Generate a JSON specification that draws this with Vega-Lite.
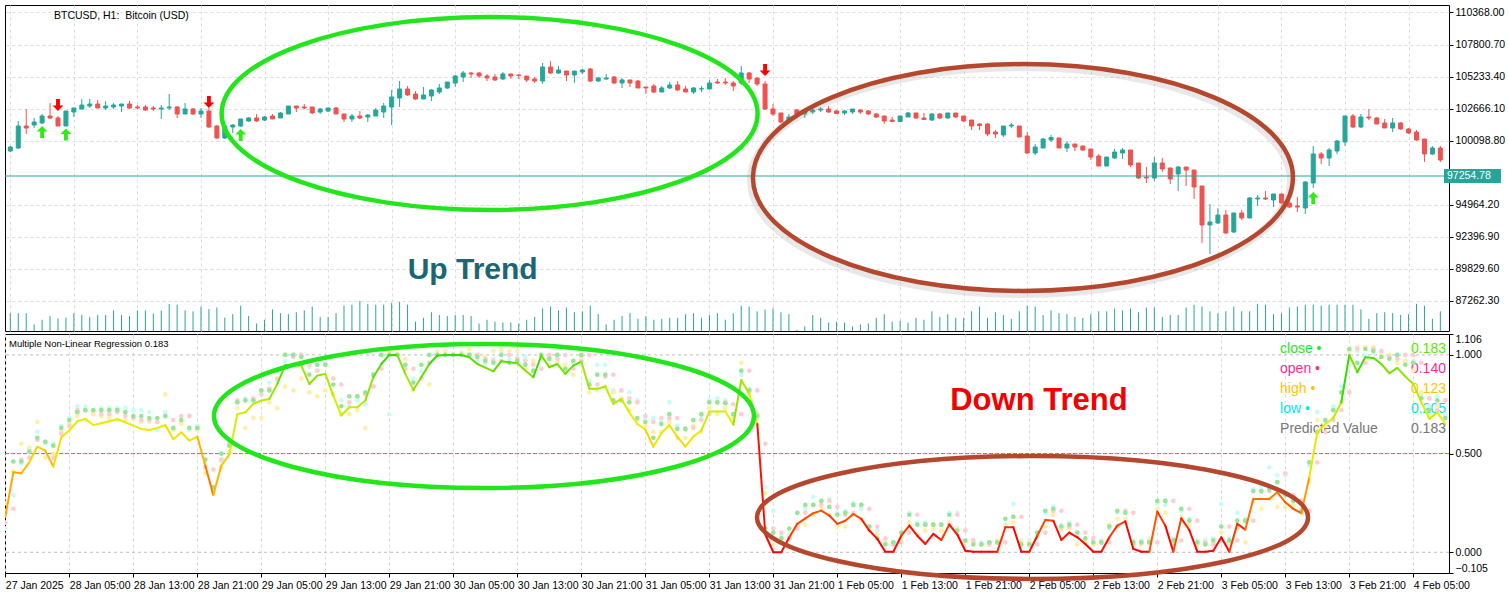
{
"$schema": "https://vega.github.io/schema/vega-lite/v6.json",
"background": "#ffffff",
"padding": {"left": 4, "top": 4, "right": 0, "bottom": 0},
"spacing": 1,
"config": {
  "font": "Liberation Sans",
  "view": {"stroke": "#000000", "strokeWidth": 1},
  "axis": {"labelFont": "Liberation Sans", "labelFontSize": 10.5, "labelColor": "#000000", "tickColor": "#000000", "tickSize": 4, "gridColor": "#dcdcdc", "gridDash": [3, 3], "gridWidth": 1, "domain": false, "labelOverlap": false},
  "text": {"font": "Liberation Sans"}
},
"datasets": {
"level": [{"price": 97254.78}],
"signals": [
{"i":4,"price":100784,"d":"up"},{"i":7,"price":100584,"d":"up"},{"i":29,"price":100543,"d":"up"},{"i":164,"price":95491,"d":"up"},
{"i":6,"price":102949,"d":"down"},{"i":25,"price":103190,"d":"down"},{"i":95,"price":105756,"d":"down"}],
"bars": [
{"i":0,"o":99260,"h":99661,"l":99180,"c":99581,"v":2280,"p":0.18,"zc":0.2,"zo":0.15,"zh":0.25,"zl":0.12},
{"i":1,"o":99501,"h":101666,"l":99421,"c":101265,"v":2280,"p":0.405,"zc":0.46,"zo":0.22,"zh":0.41,"zl":0.29},
{"i":2,"o":101265,"h":102629,"l":100624,"c":101105,"v":2280,"p":0.4,"zc":0.46,"zo":0.47,"zh":0.55,"zl":0.45},
{"i":3,"o":101345,"h":101907,"l":101105,"c":101586,"v":840,"p":0.456,"zc":0.51,"zo":0.48,"zh":0.53,"zl":0.52},
{"i":4,"o":101506,"h":102228,"l":101426,"c":102067,"v":1440,"p":0.535,"zc":0.58,"zo":0.57,"zh":0.66,"zl":0.61},
{"i":5,"o":102067,"h":103110,"l":101827,"c":101907,"v":1920,"p":0.515,"zc":0.56,"zo":0.56,"zh":0.48,"zl":0.55},
{"i":6,"o":101907,"h":102067,"l":101265,"c":101265,"v":1600,"p":0.434,"zc":0.54,"zo":0.48,"zh":0.5,"zl":0.55},
{"i":7,"o":101265,"h":102468,"l":101265,"c":102468,"v":1720,"p":0.583,"zc":0.63,"zo":0.6,"zh":0.61,"zl":0.64},
{"i":8,"o":102388,"h":102709,"l":101987,"c":102709,"v":2280,"p":0.617,"zc":0.67,"zo":0.64,"zh":0.65,"zl":0.68},
{"i":9,"o":102629,"h":103431,"l":102629,"c":102949,"v":2040,"p":0.664,"zc":0.71,"zo":0.72,"zh":0.69,"zl":0.74},
{"i":10,"o":102869,"h":103431,"l":102709,"c":103030,"v":1800,"p":0.676,"zc":0.72,"zo":0.72,"zh":0.67,"zl":0.74},
{"i":11,"o":103030,"h":103351,"l":102709,"c":102709,"v":2040,"p":0.645,"zc":0.72,"zo":0.72,"zh":0.7,"zl":0.7},
{"i":12,"o":102709,"h":103270,"l":102548,"c":102869,"v":2040,"p":0.654,"zc":0.72,"zo":0.7,"zh":0.69,"zl":0.73},
{"i":13,"o":102789,"h":103110,"l":102629,"c":102949,"v":2640,"p":0.664,"zc":0.72,"zo":0.7,"zh":0.68,"zl":0.73},
{"i":14,"o":102869,"h":103030,"l":102388,"c":103030,"v":2040,"p":0.674,"zc":0.72,"zo":0.71,"zh":0.67,"zl":0.73},
{"i":15,"o":103030,"h":103270,"l":102629,"c":102709,"v":1920,"p":0.659,"zc":0.71,"zo":0.69,"zh":0.67,"zl":0.73},
{"i":16,"o":102789,"h":102949,"l":102629,"c":102709,"v":2640,"p":0.642,"zc":0.69,"zo":0.68,"zh":0.68,"zl":0.72},
{"i":17,"o":102789,"h":102949,"l":102468,"c":102548,"v":2640,"p":0.625,"zc":0.69,"zo":0.67,"zh":0.66,"zl":0.72},
{"i":18,"o":102709,"h":102869,"l":102468,"c":102629,"v":2240,"p":0.62,"zc":0.68,"zo":0.67,"zh":0.66,"zl":0.71},
{"i":19,"o":102629,"h":102949,"l":101827,"c":102709,"v":2640,"p":0.63,"zc":0.68,"zo":0.66,"zh":0.66,"zl":0.62},
{"i":20,"o":102709,"h":103832,"l":102548,"c":102789,"v":3440,"p":0.645,"zc":0.69,"zo":0.69,"zh":0.8,"zl":0.71},
{"i":21,"o":102789,"h":102869,"l":101907,"c":102228,"v":3360,"p":0.573,"zc":0.63,"zo":0.67,"zh":0.62,"zl":0.62},
{"i":22,"o":102228,"h":103110,"l":102228,"c":102629,"v":2640,"p":0.608,"zc":0.67,"zo":0.69,"zh":0.65,"zl":0.66},
{"i":23,"o":102629,"h":102709,"l":102147,"c":102228,"v":2520,"p":0.566,"zc":0.63,"zo":0.69,"zh":0.69,"zl":0.62},
{"i":24,"o":102228,"h":102709,"l":101907,"c":102468,"v":3120,"p":0.586,"zc":0.63,"zo":0.63,"zh":0.62,"zl":0.64},
{"i":25,"o":102468,"h":102709,"l":101105,"c":101185,"v":2800,"p":0.439,"zc":0.47,"zo":0.43,"zh":0.4,"zl":0.45},
{"i":26,"o":101265,"h":101345,"l":100223,"c":100303,"v":3000,"p":0.29,"zc":0.33,"zo":0.42,"zh":0.3,"zl":0.31},
{"i":27,"o":100303,"h":101345,"l":100223,"c":101265,"v":1720,"p":0.439,"zc":0.5,"zo":0.47,"zh":0.43,"zl":0.46},
{"i":28,"o":101185,"h":101426,"l":100704,"c":101345,"v":2160,"p":0.495,"zc":0.54,"zo":0.55,"zh":0.51,"zl":0.55},
{"i":29,"o":101265,"h":101827,"l":101185,"c":101827,"v":3240,"p":0.7,"zc":0.76,"zo":0.77,"zh":0.73,"zl":0.76},
{"i":30,"o":101666,"h":101987,"l":101586,"c":101907,"v":1920,"p":0.709,"zc":0.77,"zo":0.77,"zh":0.63,"zl":0.78},
{"i":31,"o":101907,"h":102228,"l":101586,"c":101666,"v":960,"p":0.752,"zc":0.77,"zo":0.78,"zh":0.68,"zl":0.77},
{"i":32,"o":101746,"h":102067,"l":101666,"c":101987,"v":1440,"p":0.769,"zc":0.82,"zo":0.8,"zh":0.68,"zl":0.82},
{"i":33,"o":102067,"h":102228,"l":101827,"c":101827,"v":2760,"p":0.777,"zc":0.82,"zo":0.83,"zh":0.76,"zl":0.86},
{"i":34,"o":101907,"h":102388,"l":101907,"c":102308,"v":2280,"p":0.853,"zc":0.92,"zo":0.88,"zh":0.73,"zl":0.87},
{"i":35,"o":102228,"h":102869,"l":102228,"c":102869,"v":2160,"p":0.949,"zc":1.0,"zo":1.0,"zh":0.84,"zl":0.97},
{"i":36,"o":102869,"h":102869,"l":102388,"c":102709,"v":2400,"p":0.949,"zc":1.0,"zo":0.99,"zh":0.82,"zl":1.0},
{"i":37,"o":102789,"h":103030,"l":102629,"c":102709,"v":2640,"p":0.946,"zc":0.99,"zo":1.0,"zh":0.88,"zl":1.0},
{"i":38,"o":102789,"h":102789,"l":102228,"c":102308,"v":3120,"p":0.853,"zc":0.9,"zo":0.95,"zh":0.81,"zl":0.94},
{"i":39,"o":102388,"h":102709,"l":102228,"c":102629,"v":1800,"p":0.895,"zc":0.95,"zo":0.92,"zh":0.79,"zl":0.95},
{"i":40,"o":102468,"h":102709,"l":102388,"c":102709,"v":1800,"p":0.904,"zc":0.95,"zo":0.95,"zh":0.82,"zl":0.96},
{"i":41,"o":102709,"h":102789,"l":102228,"c":102228,"v":2280,"p":0.794,"zc":0.85,"zo":0.88,"zh":0.8,"zl":0.88},
{"i":42,"o":102228,"h":102228,"l":101586,"c":101827,"v":3240,"p":0.693,"zc":0.74,"zo":0.85,"zh":0.7,"zl":0.77},
{"i":43,"o":101827,"h":102228,"l":101586,"c":102067,"v":3360,"p":0.735,"zc":0.79,"zo":0.76,"zh":0.7,"zl":0.74},
{"i":44,"o":102067,"h":102468,"l":101827,"c":101907,"v":3840,"p":0.735,"zc":0.79,"zo":0.79,"zh":0.72,"zl":0.77},
{"i":45,"o":101987,"h":102228,"l":101586,"c":102147,"v":3480,"p":0.769,"zc":0.81,"zo":0.8,"zh":0.63,"zl":0.75},
{"i":46,"o":102067,"h":102709,"l":102067,"c":102548,"v":3360,"p":0.887,"zc":0.9,"zo":0.84,"zh":0.84,"zl":0.9},
{"i":47,"o":102388,"h":103110,"l":101907,"c":102869,"v":3360,"p":0.954,"zc":1.0,"zo":0.93,"zh":1.03,"zl":1.0},
{"i":48,"o":102789,"h":104153,"l":101345,"c":103591,"v":3600,"p":1.0,"zc":1.0,"zo":1.0,"zh":1.02,"zl":0.7},
{"i":49,"o":103511,"h":104874,"l":102789,"c":104233,"v":3720,"p":1.0,"zc":1.0,"zo":1.0,"zh":1.03,"zl":1.0},
{"i":50,"o":104233,"h":104473,"l":103671,"c":103752,"v":3360,"p":0.904,"zc":0.95,"zo":0.93,"zh":0.98,"zl":0.95},
{"i":51,"o":103832,"h":104072,"l":103351,"c":103431,"v":1200,"p":0.823,"zc":0.86,"zo":0.93,"zh":0.82,"zl":0.88},
{"i":52,"o":103431,"h":104393,"l":103431,"c":103752,"v":1680,"p":0.887,"zc":0.95,"zo":0.88,"zh":0.88,"zl":0.92},
{"i":53,"o":103671,"h":104233,"l":103270,"c":104153,"v":2400,"p":0.954,"zc":1.0,"zo":0.96,"zh":0.85,"zl":1.0},
{"i":54,"o":103992,"h":104634,"l":103832,"c":104313,"v":2040,"p":0.997,"zc":1.0,"zo":1.0,"zh":1.02,"zl":1.0},
{"i":55,"o":104313,"h":104794,"l":104233,"c":104794,"v":1920,"p":1.0,"zc":1.0,"zo":1.0,"zh":1.02,"zl":1.0},
{"i":56,"o":104714,"h":105356,"l":104393,"c":105275,"v":2040,"p":1.0,"zc":1.0,"zo":1.0,"zh":1.0,"zl":1.0},
{"i":57,"o":105195,"h":105676,"l":104794,"c":105516,"v":2040,"p":1.0,"zc":1.0,"zo":1.0,"zh":1.01,"zl":1.0},
{"i":58,"o":105516,"h":105596,"l":105115,"c":105436,"v":1920,"p":0.988,"zc":1.0,"zo":1.0,"zh":1.03,"zl":1.0},
{"i":59,"o":105516,"h":105596,"l":105115,"c":105275,"v":960,"p":0.954,"zc":0.99,"zo":1.0,"zh":1.0,"zl":0.97},
{"i":60,"o":105275,"h":105436,"l":104874,"c":105115,"v":1440,"p":0.936,"zc":0.97,"zo":0.98,"zh":0.99,"zl":0.96},
{"i":61,"o":105195,"h":105436,"l":104874,"c":104955,"v":1200,"p":0.917,"zc":0.96,"zo":0.97,"zh":1.02,"zl":0.98},
{"i":62,"o":105035,"h":105596,"l":104955,"c":105436,"v":1080,"p":0.968,"zc":1.0,"zo":0.97,"zh":1.03,"zl":1.02},
{"i":63,"o":105436,"h":105436,"l":105035,"c":105275,"v":1080,"p":0.963,"zc":0.96,"zo":1.0,"zh":1.02,"zl":0.98},
{"i":64,"o":105356,"h":105436,"l":105035,"c":105316,"v":960,"p":0.958,"zc":0.97,"zo":0.98,"zh":1.02,"zl":0.99},
{"i":65,"o":105275,"h":105275,"l":104794,"c":104955,"v":1440,"p":0.921,"zc":0.95,"zo":0.97,"zh":0.93,"zl":0.99},
{"i":66,"o":105035,"h":105195,"l":104714,"c":104874,"v":1800,"p":0.887,"zc":0.92,"zo":0.95,"zh":0.97,"zl":0.96},
{"i":67,"o":104874,"h":106318,"l":104634,"c":105997,"v":2880,"p":0.997,"zc":1.0,"zo":0.93,"zh":0.98,"zl":1.0},
{"i":68,"o":105997,"h":106478,"l":105436,"c":105516,"v":3120,"p":0.9375,"zc":0.98,"zo":1.0,"zh":0.95,"zl":0.99},
{"i":69,"o":105516,"h":106077,"l":105436,"c":105756,"v":2640,"p":0.954,"zc":1.0,"zo":0.98,"zh":0.96,"zl":1.0},
{"i":70,"o":105676,"h":105676,"l":104874,"c":105356,"v":3000,"p":0.904,"zc":0.93,"zo":1.0,"zh":0.95,"zl":0.92},
{"i":71,"o":105356,"h":105676,"l":104714,"c":105676,"v":2400,"p":0.946,"zc":0.97,"zo":0.93,"zh":0.9,"zl":0.96},
{"i":72,"o":105596,"h":105837,"l":105436,"c":105756,"v":2520,"p":0.966,"zc":1.0,"zo":0.97,"zh":0.99,"zl":0.95},
{"i":73,"o":105837,"h":105917,"l":104794,"c":104874,"v":3240,"p":0.828,"zc":0.85,"zo":1.0,"zh":0.81,"zl":0.87},
{"i":74,"o":104874,"h":105195,"l":104794,"c":105115,"v":2160,"p":0.828,"zc":0.9,"zo":0.85,"zh":0.82,"zl":0.95},
{"i":75,"o":105035,"h":105436,"l":104955,"c":105115,"v":840,"p":0.84,"zc":0.9,"zo":0.89,"zh":0.84,"zl":0.95},
{"i":76,"o":105195,"h":105275,"l":104634,"c":104714,"v":1440,"p":0.752,"zc":0.77,"zo":0.9,"zh":0.81,"zl":0.82},
{"i":77,"o":104714,"h":105115,"l":104313,"c":104955,"v":1920,"p":0.777,"zc":0.77,"zo":0.82,"zh":0.78,"zl":0.82},
{"i":78,"o":104955,"h":104955,"l":104393,"c":104714,"v":2280,"p":0.709,"zc":0.76,"zo":0.78,"zh":0.72,"zl":0.81},
{"i":79,"o":104874,"h":104955,"l":104313,"c":104313,"v":1560,"p":0.65,"zc":0.68,"zo":0.76,"zh":0.67,"zl":0.77},
{"i":80,"o":104393,"h":104393,"l":103832,"c":104313,"v":1920,"p":0.622,"zc":0.66,"zo":0.69,"zh":0.64,"zl":0.68},
{"i":81,"o":104473,"h":104634,"l":103912,"c":103992,"v":1440,"p":0.535,"zc":0.58,"zo":0.66,"zh":0.61,"zl":0.68},
{"i":82,"o":103992,"h":104473,"l":103992,"c":104313,"v":1560,"p":0.603,"zc":0.65,"zo":0.68,"zh":0.61,"zl":0.66},
{"i":83,"o":104313,"h":104794,"l":104233,"c":104554,"v":1680,"p":0.645,"zc":0.7,"zo":0.68,"zh":0.66,"zl":0.76},
{"i":84,"o":104554,"h":104874,"l":104072,"c":104153,"v":1680,"p":0.586,"zc":0.625,"zo":0.68,"zh":0.58,"zl":0.64},
{"i":85,"o":104233,"h":104473,"l":103992,"c":103992,"v":2160,"p":0.535,"zc":0.625,"zo":0.625,"zh":0.58,"zl":0.62},
{"i":86,"o":103992,"h":104393,"l":103832,"c":104313,"v":2280,"p":0.586,"zc":0.67,"zo":0.63,"zh":0.64,"zl":0.67},
{"i":87,"o":104233,"h":104473,"l":103992,"c":104253,"v":1680,"p":0.617,"zc":0.7,"zo":0.67,"zh":0.61,"zl":0.68},
{"i":88,"o":104233,"h":104955,"l":104233,"c":104714,"v":2040,"p":0.713,"zc":0.76,"zo":0.7,"zh":0.73,"zl":0.77},
{"i":89,"o":104794,"h":105035,"l":104634,"c":104714,"v":2280,"p":0.713,"zc":0.76,"zo":0.76,"zh":0.7,"zl":0.78},
{"i":90,"o":104794,"h":105115,"l":104554,"c":104714,"v":1440,"p":0.713,"zc":0.755,"zo":0.76,"zh":0.73,"zl":0.77},
{"i":91,"o":104714,"h":104874,"l":104072,"c":104473,"v":2280,"p":0.647,"zc":0.7,"zo":0.75,"zh":0.68,"zl":0.7},
{"i":92,"o":104714,"h":106077,"l":104554,"c":105516,"v":3240,"p":0.873,"zc":0.92,"zo":0.7,"zh":0.96,"zl":0.9},
{"i":93,"o":105516,"h":105596,"l":104714,"c":105035,"v":3120,"p":0.802,"zc":0.82,"zo":0.92,"zh":0.8,"zl":0.83},
{"i":94,"o":105115,"h":105115,"l":104473,"c":104634,"v":2520,"p":0.65,"zc":0.69,"zo":0.82,"zh":0.7,"zl":0.7},
{"i":95,"o":104634,"h":104874,"l":102548,"c":102629,"v":2760,"p":0.09,"zc":0.12,"zo":0.55,"zh":0.3,"zl":0.33},
{"i":96,"o":102629,"h":103030,"l":102067,"c":102228,"v":2880,"p":0.0,"zc":0.1,"zo":0.12,"zh":0.04,"zl":0.21},
{"i":97,"o":102308,"h":102308,"l":101506,"c":101586,"v":2400,"p":0.0,"zc":0.07,"zo":0.1,"zh":0.07,"zl":0.09},
{"i":98,"o":101666,"h":102228,"l":101506,"c":101987,"v":2160,"p":0.076,"zc":0.12,"zo":0.07,"zh":0.07,"zl":0.09},
{"i":99,"o":102548,"h":102629,"l":102147,"c":102228,"v":120,"p":0.144,"zc":0.2,"zo":0.12,"zh":0.14,"zl":0.2},
{"i":100,"o":102228,"h":102468,"l":101907,"c":102388,"v":600,"p":0.172,"zc":0.24,"zo":0.2,"zh":0.14,"zl":0.22},
{"i":101,"o":102388,"h":102709,"l":102228,"c":102548,"v":2040,"p":0.198,"zc":0.24,"zo":0.24,"zh":0.19,"zl":0.28},
{"i":102,"o":102548,"h":102789,"l":102388,"c":102629,"v":1680,"p":0.211,"zc":0.26,"zo":0.24,"zh":0.22,"zl":0.26},
{"i":103,"o":102629,"h":102869,"l":102308,"c":102388,"v":1080,"p":0.186,"zc":0.23,"zo":0.26,"zh":0.19,"zl":0.27},
{"i":104,"o":102468,"h":102548,"l":102228,"c":102268,"v":1200,"p":0.144,"zc":0.19,"zo":0.23,"zh":0.13,"zl":0.2},
{"i":105,"o":102308,"h":102548,"l":102147,"c":102468,"v":1080,"p":0.16,"zc":0.2,"zo":0.19,"zh":0.13,"zl":0.21},
{"i":106,"o":102388,"h":102629,"l":102228,"c":102629,"v":600,"p":0.194,"zc":0.24,"zo":0.2,"zh":0.19,"zl":0.25},
{"i":107,"o":102548,"h":102629,"l":102228,"c":102388,"v":840,"p":0.169,"zc":0.24,"zo":0.24,"zh":0.16,"zl":0.22},
{"i":108,"o":102468,"h":102548,"l":102147,"c":102228,"v":960,"p":0.11,"zc":0.13,"zo":0.22,"zh":0.11,"zl":0.13},
{"i":109,"o":102228,"h":102308,"l":101907,"c":101987,"v":1680,"p":0.068,"zc":0.07,"zo":0.13,"zh":0.09,"zl":0.11},
{"i":110,"o":102067,"h":102067,"l":101426,"c":101666,"v":2160,"p":0.003,"zc":0.04,"zo":0.07,"zh":0.05,"zl":0.05},
{"i":111,"o":101746,"h":101987,"l":101626,"c":101626,"v":1200,"p":0.003,"zc":0.05,"zo":0.04,"zh":0.04,"zl":0.05},
{"i":112,"o":101626,"h":102067,"l":101586,"c":102067,"v":1320,"p":0.084,"zc":0.1,"zo":0.05,"zh":0.07,"zl":0.09},
{"i":113,"o":101987,"h":102388,"l":101987,"c":102308,"v":1080,"p":0.135,"zc":0.19,"zo":0.1,"zh":0.15,"zl":0.2},
{"i":114,"o":102308,"h":102308,"l":101827,"c":101907,"v":1680,"p":0.084,"zc":0.14,"zo":0.19,"zh":0.09,"zl":0.15},
{"i":115,"o":101907,"h":102308,"l":101786,"c":101786,"v":1440,"p":0.042,"zc":0.14,"zo":0.14,"zh":0.11,"zl":0.15},
{"i":116,"o":101746,"h":102308,"l":101666,"c":102228,"v":2520,"p":0.093,"zc":0.14,"zo":0.14,"zh":0.12,"zl":0.14},
{"i":117,"o":102228,"h":102308,"l":101827,"c":101907,"v":1800,"p":0.0625,"zc":0.14,"zo":0.14,"zh":0.11,"zl":0.14},
{"i":118,"o":101907,"h":102308,"l":101827,"c":102308,"v":2160,"p":0.14,"zc":0.19,"zo":0.14,"zh":0.15,"zl":0.2},
{"i":119,"o":102308,"h":102308,"l":101907,"c":101987,"v":1680,"p":0.09,"zc":0.11,"zo":0.19,"zh":0.12,"zl":0.2},
{"i":120,"o":102067,"h":102067,"l":101586,"c":101666,"v":1680,"p":0.008,"zc":0.06,"zo":0.11,"zh":0.05,"zl":0.05},
{"i":121,"o":101746,"h":101746,"l":100944,"c":101265,"v":2520,"p":0.003,"zc":0.04,"zo":0.06,"zh":0.05,"zl":0.05},
{"i":122,"o":101426,"h":101506,"l":100944,"c":101306,"v":3120,"p":0.003,"zc":0.04,"zo":0.04,"zh":0.04,"zl":0.05},
{"i":123,"o":101426,"h":101506,"l":100463,"c":100624,"v":1680,"p":0.003,"zc":0.05,"zo":0.04,"zh":0.04,"zl":0.05},
{"i":124,"o":100784,"h":100944,"l":100303,"c":100624,"v":2400,"p":0.003,"zc":0.05,"zo":0.05,"zh":0.06,"zl":0.05},
{"i":125,"o":100543,"h":101265,"l":100383,"c":101265,"v":2040,"p":0.127,"zc":0.17,"zo":0.05,"zh":0.13,"zl":0.14},
{"i":126,"o":101265,"h":101506,"l":101105,"c":101345,"v":1560,"p":0.127,"zc":0.18,"zo":0.18,"zh":0.15,"zl":0.245},
{"i":127,"o":101265,"h":101265,"l":100383,"c":100383,"v":2520,"p":0.003,"zc":0.04,"zo":0.18,"zh":0.05,"zl":0.06},
{"i":128,"o":100463,"h":100784,"l":99020,"c":99100,"v":3240,"p":0.003,"zc":0.04,"zo":0.04,"zh":0.05,"zl":0.06},
{"i":129,"o":99100,"h":99822,"l":98939,"c":99581,"v":3120,"p":0.084,"zc":0.1,"zo":0.04,"zh":0.08,"zl":0.1},
{"i":130,"o":99501,"h":100303,"l":99501,"c":100223,"v":2040,"p":0.164,"zc":0.21,"zo":0.1,"zh":0.13,"zl":0.2},
{"i":131,"o":100142,"h":100543,"l":99982,"c":100343,"v":2640,"p":0.16,"zc":0.22,"zo":0.21,"zh":0.19,"zl":0.23},
{"i":132,"o":100303,"h":100303,"l":99501,"c":99501,"v":2280,"p":0.0625,"zc":0.13,"zo":0.21,"zh":0.12,"zl":0.14},
{"i":133,"o":99501,"h":100062,"l":99180,"c":99822,"v":2160,"p":0.1,"zc":0.14,"zo":0.13,"zh":0.12,"zl":0.15},
{"i":134,"o":99822,"h":99822,"l":99260,"c":99581,"v":1800,"p":0.076,"zc":0.1,"zo":0.14,"zh":0.04,"zl":0.08},
{"i":135,"o":99661,"h":99661,"l":99260,"c":99340,"v":1680,"p":0.042,"zc":0.07,"zo":0.1,"zh":0.05,"zl":0.05},
{"i":136,"o":99421,"h":99421,"l":98538,"c":98779,"v":2160,"p":0.003,"zc":0.05,"zo":0.07,"zh":0.04,"zl":0.05},
{"i":137,"o":98859,"h":99020,"l":98057,"c":98057,"v":2520,"p":0.003,"zc":0.05,"zo":0.05,"zh":0.05,"zl":0.06},
{"i":138,"o":98057,"h":98779,"l":98057,"c":98779,"v":2520,"p":0.076,"zc":0.13,"zo":0.05,"zh":0.14,"zl":0.12},
{"i":139,"o":98699,"h":99421,"l":98619,"c":99180,"v":2880,"p":0.135,"zc":0.21,"zo":0.13,"zh":0.17,"zl":0.2},
{"i":140,"o":99100,"h":99501,"l":98619,"c":99340,"v":2640,"p":0.157,"zc":0.2,"zo":0.21,"zh":0.17,"zl":0.2},
{"i":141,"o":99340,"h":99340,"l":97977,"c":98137,"v":2880,"p":0.017,"zc":0.05,"zo":0.2,"zh":0.04,"zl":0.06},
{"i":142,"o":98298,"h":98298,"l":97015,"c":97095,"v":2400,"p":0.003,"zc":0.05,"zo":0.05,"zh":0.04,"zl":0.06},
{"i":143,"o":97175,"h":97977,"l":96694,"c":97095,"v":3000,"p":0.003,"zc":0.05,"zo":0.05,"zh":0.06,"zl":0.07},
{"i":144,"o":97095,"h":98779,"l":96854,"c":98298,"v":3000,"p":0.206,"zc":0.26,"zo":0.05,"zh":0.22,"zl":0.25},
{"i":145,"o":98298,"h":98699,"l":97576,"c":97817,"v":1800,"p":0.135,"zc":0.26,"zo":0.26,"zh":0.2,"zl":0.24},
{"i":146,"o":97897,"h":97897,"l":96614,"c":97015,"v":2040,"p":0.003,"zc":0.06,"zo":0.26,"zh":0.05,"zl":0.07},
{"i":147,"o":97415,"h":98057,"l":96052,"c":97977,"v":2040,"p":0.172,"zc":0.22,"zo":0.06,"zh":0.18,"zl":0.21},
{"i":148,"o":97977,"h":97977,"l":96453,"c":97736,"v":3000,"p":0.113,"zc":0.16,"zo":0.22,"zh":0.14,"zl":0.17},
{"i":149,"o":97736,"h":97736,"l":95411,"c":96373,"v":3360,"p":0.003,"zc":0.05,"zo":0.16,"zh":0.04,"zl":0.06},
{"i":150,"o":96453,"h":96453,"l":91882,"c":93325,"v":3120,"p":0.003,"zc":0.04,"zo":0.05,"zh":0.05,"zl":0.06},
{"i":151,"o":93325,"h":95010,"l":91000,"c":93566,"v":2520,"p":0.008,"zc":0.06,"zo":0.04,"zh":0.05,"zl":0.07},
{"i":152,"o":93486,"h":94689,"l":93406,"c":94127,"v":2280,"p":0.076,"zc":0.13,"zo":0.06,"zh":0.1,"zl":0.245},
{"i":153,"o":94127,"h":94528,"l":92604,"c":92684,"v":2520,"p":0.003,"zc":0.06,"zo":0.13,"zh":0.05,"zl":0.07},
{"i":154,"o":92764,"h":94288,"l":92684,"c":94288,"v":3120,"p":0.144,"zc":0.16,"zo":0.06,"zh":0.12,"zl":0.2},
{"i":155,"o":94288,"h":94528,"l":93727,"c":93887,"v":2520,"p":0.115,"zc":0.16,"zo":0.16,"zh":0.05,"zl":0.17},
{"i":156,"o":93887,"h":95571,"l":93887,"c":95491,"v":2520,"p":0.27,"zc":0.31,"zo":0.16,"zh":0.26,"zl":0.32},
{"i":157,"o":95411,"h":95731,"l":94849,"c":95491,"v":3480,"p":0.27,"zc":0.31,"zo":0.31,"zh":0.22,"zl":0.33},
{"i":158,"o":95491,"h":96052,"l":95330,"c":95411,"v":3360,"p":0.27,"zc":0.32,"zo":0.31,"zh":0.27,"zl":0.43},
{"i":159,"o":95330,"h":95812,"l":94769,"c":95812,"v":2160,"p":0.304,"zc":0.355,"zo":0.32,"zh":0.23,"zl":0.39},
{"i":160,"o":95812,"h":95812,"l":95010,"c":95090,"v":2280,"p":0.253,"zc":0.29,"zo":0.4,"zh":0.23,"zl":0.39},
{"i":161,"o":95090,"h":95651,"l":94689,"c":94769,"v":3000,"p":0.22,"zc":0.26,"zo":0.29,"zh":0.24,"zl":0.27},
{"i":162,"o":94849,"h":95571,"l":94368,"c":94769,"v":3120,"p":0.198,"zc":0.21,"zo":0.26,"zh":0.2,"zl":0.22},
{"i":163,"o":94689,"h":96854,"l":94207,"c":96774,"v":3360,"p":0.38,"zc":0.456,"zo":0.21,"zh":0.36,"zl":0.44},
{"i":164,"o":96694,"h":99661,"l":96293,"c":99020,"v":3360,"p":0.608,"zc":0.61,"zo":0.456,"zh":0.67,"zl":0.71},
{"i":165,"o":99020,"h":99180,"l":98218,"c":98699,"v":3240,"p":0.65,"zc":0.67,"zo":0.61,"zh":0.64,"zl":0.66},
{"i":166,"o":98699,"h":99501,"l":98057,"c":99340,"v":3360,"p":0.68,"zc":0.72,"zo":0.67,"zh":0.68,"zl":0.74},
{"i":167,"o":99260,"h":100142,"l":99020,"c":100062,"v":3360,"p":0.76,"zc":0.81,"zo":0.72,"zh":0.76,"zl":0.84},
{"i":168,"o":99982,"h":102067,"l":99661,"c":102067,"v":3360,"p":1.0,"zc":1.03,"zo":0.81,"zh":1.02,"zl":1.02},
{"i":169,"o":102067,"h":102228,"l":101105,"c":101185,"v":3360,"p":0.912,"zc":0.96,"zo":1.03,"zh":1.04,"zl":1.02},
{"i":170,"o":101185,"h":102228,"l":101105,"c":101987,"v":2760,"p":0.988,"zc":1.03,"zo":0.96,"zh":1.04,"zl":1.0},
{"i":171,"o":101987,"h":102629,"l":101746,"c":101907,"v":1560,"p":0.985,"zc":1.02,"zo":1.03,"zh":1.04,"zl":1.01},
{"i":172,"o":101907,"h":101987,"l":101426,"c":101426,"v":2280,"p":0.954,"zc":0.99,"zo":1.02,"zh":1.0,"zl":1.02},
{"i":173,"o":101506,"h":101827,"l":101105,"c":101105,"v":2400,"p":0.907,"zc":0.98,"zo":0.99,"zh":1.0,"zl":0.99},
{"i":174,"o":101105,"h":101907,"l":100784,"c":101506,"v":2280,"p":0.934,"zc":1.0,"zo":0.98,"zh":0.96,"zl":1.0},
{"i":175,"o":101506,"h":101586,"l":100944,"c":101025,"v":2040,"p":0.89,"zc":0.95,"zo":1.0,"zh":0.97,"zl":0.96},
{"i":176,"o":101025,"h":101105,"l":100624,"c":100704,"v":2160,"p":0.853,"zc":0.96,"zo":1.0,"zh":0.92,"zl":0.97},
{"i":177,"o":100784,"h":100944,"l":100062,"c":100142,"v":3480,"p":0.76,"zc":0.78,"zo":0.96,"zh":0.81,"zl":0.8},
{"i":178,"o":100223,"h":100223,"l":98378,"c":99020,"v":3240,"p":0.676,"zc":0.72,"zo":0.78,"zh":0.69,"zl":0.74},
{"i":179,"o":99020,"h":99661,"l":98939,"c":99501,"v":1560,"p":0.709,"zc":0.77,"zo":0.72,"zh":0.74,"zl":0.79},
{"i":180,"o":99501,"h":99661,"l":98378,"c":98538,"v":2520,"p":0.65,"zc":0.68,"zo":0.77,"zh":0.77,"zl":0.7}
]
},
"vconcat": [
{
  "width": 1444,
  "height": 326,
  "layer": [
    {
      "data": {"name": "bars"},
      "mark": {"type": "rule", "color": "#26a69a", "strokeWidth": 1, "clip": true},
      "encoding": {
        "x": {"field": "i", "type": "quantitative", "scale": {"domain": [-0.04, 180.46], "nice": false, "zero": false},
              "axis": {"values": [0,8,16,24,32,40,48,56,64,72,80,88,96,104,112,120,128,136,144,152,160,168,176], "labels": false, "ticks": false, "domain": false, "grid": true, "title": null}},
        "y": {"field": "v", "type": "quantitative", "scale": {"domain": [0, 41700], "nice": false, "zero": true}, "axis": null},
        "y2": {"datum": 0}
      }
    },
    {
      "layer": [
        {
          "data": {"name": "bars"},
          "mark": {"type": "rule", "strokeWidth": 1, "clip": true},
          "encoding": {
            "x": {"field": "i", "type": "quantitative"},
            "y": {"field": "l", "type": "quantitative", "scale": {"domain": [84824.3, 110969.5], "nice": false, "zero": false},
                  "axis": {"orient": "right", "values": [87262.3, 89829.6, 92396.9, 94964.2, 100098.8, 102666.1, 105233.4, 107800.7, 110368], "format": ".2f", "grid": true, "title": null, "labelPadding": 2, "labelFlush": false, "labelOverlap": false}},
            "y2": {"field": "h"},
            "color": {"condition": {"test": "datum.o > datum.c", "value": "#ef5350"}, "value": "#26a69a"}
          }
        },
        {
          "data": {"name": "bars"},
          "mark": {"type": "bar", "width": 4, "strokeWidth": 1, "clip": true},
          "encoding": {
            "x": {"field": "i", "type": "quantitative"},
            "y": {"field": "o", "type": "quantitative"},
            "y2": {"field": "c"},
            "color": {"condition": {"test": "datum.o > datum.c", "value": "#ef5350"}, "value": "#26a69a"},
            "stroke": {"condition": {"test": "datum.o > datum.c", "value": "#ef5350"}, "value": "#26a69a"}
          }
        },
        {
          "data": {"name": "level"},
          "mark": {"type": "rule", "color": "#26a69a", "strokeWidth": 1},
          "encoding": {"y": {"field": "price", "type": "quantitative"}}
        },
        {
          "data": {"values": [{}]},
          "mark": {"type": "point", "shape": "M-1,0C-1,-0.232,-0.5523,-0.42,0,-0.42C0.5523,-0.42,1,-0.232,1,0C1,0.232,0.5523,0.42,0,0.42C-0.5523,0.42,-1,0.232,-1,0Z", "size": 291600, "filled": false, "color": "#9a9a9a", "strokeWidth": 8, "opacity": 0.22, "xOffset": -2, "yOffset": 3},
          "encoding": {"x": {"datum": 127.46}, "y": {"datum": 97135}}
        },
        {
          "data": {"values": [{}]},
          "mark": {"type": "point", "shape": "M-1,0C-1,-0.232,-0.5523,-0.42,0,-0.42C0.5523,-0.42,1,-0.232,1,0C1,0.232,0.5523,0.42,0,0.42C-0.5523,0.42,-1,0.232,-1,0Z", "size": 291600, "filled": false, "color": "#b5472f", "strokeWidth": 4.5, "opacity": 1},
          "encoding": {"x": {"datum": 127.46}, "y": {"datum": 97135}}
        },
        {
          "data": {"values": [{}]},
          "mark": {"type": "point", "shape": "M-1,0C-1,-0.1988,-0.5523,-0.36,0,-0.36C0.5523,-0.36,1,-0.1988,1,0C1,0.1988,0.5523,0.36,0,0.36C-0.5523,0.36,-1,0.1988,-1,0Z", "size": 287296, "filled": false, "color": "#20e61a", "strokeWidth": 4.5, "opacity": 1},
          "encoding": {"x": {"datum": 60.33}, "y": {"datum": 102268}}
        },
        {
          "data": {"name": "signals"},
          "mark": {"type": "point", "filled": true, "size": 144, "opacity": 1},
          "encoding": {
            "x": {"field": "i", "type": "quantitative"},
            "y": {"field": "price", "type": "quantitative"},
            "shape": {"field": "d", "type": "nominal", "scale": {"domain": ["up", "down"], "range": ["M0,-1L0.9,-0.1L0.32,-0.1L0.32,1L-0.32,1L-0.32,-0.1L-0.9,-0.1Z", "M0,1L0.9,0.1L0.32,0.1L0.32,-1L-0.32,-1L-0.32,0.1L-0.9,0.1Z"]}, "legend": null},
            "color": {"field": "d", "type": "nominal", "scale": {"domain": ["up", "down"], "range": ["#2cec12", "#ff0000"]}, "legend": null}
          }
        },
        {
          "data": {"values": [{"label": "BTCUSD, H1:\u00a0 Bitcoin (USD)"}]},
          "mark": {"type": "text", "align": "left", "baseline": "middle", "fontSize": 10.5, "color": "#000000"},
          "encoding": {"x": {"datum": 5.5}, "y": {"datum": 110087}, "text": {"field": "label"}}
        },
        {
          "data": {"values": [{"label": "Up Trend"}]},
          "mark": {"type": "text", "align": "center", "baseline": "alphabetic", "fontSize": 30, "fontWeight": "bold", "color": "#1a6672"},
          "encoding": {"x": {"datum": 58.2}, "y": {"datum": 88995}, "text": {"field": "label"}}
        },
        {
          "data": {"name": "level"},
          "mark": {"type": "point", "filled": true, "shape": "M0,-1L8.14,-1L8.14,1L0,1Z", "size": 196, "color": "#26a69a", "opacity": 1},
          "encoding": {"x": {"datum": 180.46}, "y": {"field": "price", "type": "quantitative"}}
        },
        {
          "data": {"name": "level"},
          "mark": {"type": "text", "align": "left", "baseline": "middle", "dx": 3, "fontSize": 10.5, "color": "#ffffff"},
          "encoding": {"x": {"datum": 180.46}, "y": {"field": "price", "type": "quantitative"}, "text": {"field": "price", "type": "quantitative", "format": ".2f"}}
        }
      ]
    }
  ],
  "resolve": {"scale": {"y": "independent"}}
},
{
  "width": 1444,
  "height": 239,
  "layer": [
    {
      "data": {"values": [{"lv": 1}, {"lv": 0}]},
      "mark": {"type": "rule", "color": "#bdbdbd", "strokeDash": [3, 3], "strokeWidth": 1},
      "encoding": {
        "y": {"field": "lv", "type": "quantitative", "scale": {"domain": [-0.105, 1.106], "nice": false, "zero": false},
              "axis": {"orient": "right", "values": [-0.105, 0, 0.5, 1, 1.106], "format": ".3f", "grid": false, "title": null, "labelPadding": 2, "labelFlush": true}}
      }
    },
    {
      "data": {"values": [{"lv": 0.5}]},
      "mark": {"type": "rule", "color": "#ff5a2a", "strokeDash": [4, 2], "strokeWidth": 1},
      "encoding": {"y": {"field": "lv", "type": "quantitative"}}
    },
    {
      "data": {"values": [{"name": "close \u2022", "val": "0.183"}]},
      "layer": [
        {"mark": {"type": "text", "align": "left", "baseline": "middle", "fontSize": 14, "color": "#1ee81e"}, "encoding": {"x": {"datum": 159.34}, "y": {"datum": 1.03}, "text": {"field": "name"}}},
        {"mark": {"type": "text", "align": "right", "baseline": "middle", "fontSize": 14, "color": "#5ae800"}, "encoding": {"x": {"datum": 180.08}, "y": {"datum": 1.03}, "text": {"field": "val"}}}
      ]
    },
    {
      "data": {"values": [{"name": "open \u2022", "val": "0.140"}]},
      "layer": [
        {"mark": {"type": "text", "align": "left", "baseline": "middle", "fontSize": 14, "color": "#ff2a8e"}, "encoding": {"x": {"datum": 159.34}, "y": {"datum": 0.929}, "text": {"field": "name"}}},
        {"mark": {"type": "text", "align": "right", "baseline": "middle", "fontSize": 14, "color": "#ff2a8e"}, "encoding": {"x": {"datum": 180.08}, "y": {"datum": 0.929}, "text": {"field": "val"}}}
      ]
    },
    {
      "data": {"values": [{"name": "high \u2022", "val": "0.123"}]},
      "layer": [
        {"mark": {"type": "text", "align": "left", "baseline": "middle", "fontSize": 14, "color": "#ffc400"}, "encoding": {"x": {"datum": 159.34}, "y": {"datum": 0.828}, "text": {"field": "name"}}},
        {"mark": {"type": "text", "align": "right", "baseline": "middle", "fontSize": 14, "color": "#ffc400"}, "encoding": {"x": {"datum": 180.08}, "y": {"datum": 0.828}, "text": {"field": "val"}}}
      ]
    },
    {
      "data": {"values": [{"name": "low \u2022", "val": "0.205"}]},
      "layer": [
        {"mark": {"type": "text", "align": "left", "baseline": "middle", "fontSize": 14, "color": "#00e4ee"}, "encoding": {"x": {"datum": 159.34}, "y": {"datum": 0.726}, "text": {"field": "name"}}},
        {"mark": {"type": "text", "align": "right", "baseline": "middle", "fontSize": 14, "color": "#00e4ee"}, "encoding": {"x": {"datum": 180.08}, "y": {"datum": 0.726}, "text": {"field": "val"}}}
      ]
    },
    {
      "data": {"values": [{"name": "Predicted Value", "val": "0.183"}]},
      "layer": [
        {"mark": {"type": "text", "align": "left", "baseline": "middle", "fontSize": 14, "color": "#777777"}, "encoding": {"x": {"datum": 159.34}, "y": {"datum": 0.625}, "text": {"field": "name"}}},
        {"mark": {"type": "text", "align": "right", "baseline": "middle", "fontSize": 14, "color": "#777777"}, "encoding": {"x": {"datum": 180.08}, "y": {"datum": 0.625}, "text": {"field": "val"}}}
      ]
    },
    {
      "data": {"name": "bars"},
      "mark": {"type": "circle", "size": 22, "opacity": 1, "color": "#c8fbfb", "clip": true},
      "encoding": {
        "x": {"field": "i", "type": "quantitative", "scale": {"domain": [-0.04, 180.46], "nice": false, "zero": false},
              "axis": {"values": [0,8,16,24,32,40,48,56,64,72,80,88,96,104,112,120,128,136,144,152,160,168,176],
                       "labelExpr": "datum.value == 0 ? '27 Jan 2025' : timeFormat(datetime(2025, 0, 27, 21 + datum.value, 0), '%-d %b %H:%M')",
                       "labelAlign": "left", "labelBaseline": "top", "labelPadding": 3, "labelFlush": false, "labelOverlap": false,
                       "grid": true, "ticks": true, "tickSize": 4, "title": null, "domain": false}},
        "y": {"field": "zl", "type": "quantitative"}
      }
    },
    {
      "data": {"name": "bars"},
      "mark": {"type": "circle", "size": 22, "opacity": 1, "color": "#fff0a6", "clip": true},
      "encoding": {"x": {"field": "i", "type": "quantitative"}, "y": {"field": "zh", "type": "quantitative"}}
    },
    {
      "data": {"name": "bars"},
      "mark": {"type": "circle", "size": 22, "opacity": 1, "color": "#ffcdd2", "clip": true},
      "encoding": {"x": {"field": "i", "type": "quantitative"}, "y": {"field": "zo", "type": "quantitative"}}
    },
    {
      "data": {"name": "bars"},
      "mark": {"type": "circle", "size": 22, "opacity": 1, "color": "#95e695", "clip": true},
      "encoding": {"x": {"field": "i", "type": "quantitative"}, "y": {"field": "zc", "type": "quantitative"}}
    },
    {
      "data": {"name": "bars"},
      "transform": [
        {"window": [{"op": "lead", "field": "p", "as": "p2"}, {"op": "lead", "field": "i", "as": "i2"}], "sort": [{"field": "i", "order": "ascending"}]},
        {"filter": "isValid(datum.i2)"}
      ],
      "mark": {"type": "rule", "strokeWidth": 2, "strokeCap": "round", "clip": true},
      "encoding": {
        "x": {"field": "i", "type": "quantitative"},
        "x2": {"field": "i2"},
        "y": {"field": "p", "type": "quantitative"},
        "y2": {"field": "p2"},
        "color": {"field": "p2", "type": "quantitative", "scale": {"domain": [0, 0.1, 0.22, 0.35, 0.5, 0.65, 0.85, 1], "range": ["#ff0000", "#ff1000", "#ff5c00", "#ff9000", "#ffcc00", "#e6f000", "#9ee600", "#33dd00"]}, "legend": null}
      }
    },
    {
      "data": {"values": [{}]},
      "mark": {"type": "point", "shape": "M-1,0C-1,-0.1232,-0.5523,-0.223,0,-0.223C0.5523,-0.223,1,-0.1232,1,0C1,0.1232,0.5523,0.223,0,0.223C-0.5523,0.223,-1,0.1232,-1,0Z", "size": 303601, "filled": false, "color": "#b5472f", "strokeWidth": 4.5, "opacity": 1},
      "encoding": {"x": {"datum": 128.4}, "y": {"datum": 0.1763}}
    },
    {
      "data": {"values": [{}]},
      "mark": {"type": "point", "shape": "M-1,0C-1,-0.1475,-0.5523,-0.267,0,-0.267C0.5523,-0.267,1,-0.1475,1,0C1,0.1475,0.5523,0.267,0,0.267C-0.5523,0.267,-1,0.1475,-1,0Z", "size": 291600, "filled": false, "color": "#20e61a", "strokeWidth": 4.5, "opacity": 1},
      "encoding": {"x": {"datum": 59.83}, "y": {"datum": 0.6906}}
    },
    {
      "data": {"values": [{"label": "Multiple Non-Linear Regression 0.183"}]},
      "mark": {"type": "text", "align": "left", "baseline": "middle", "fontSize": 9.5, "color": "#000000"},
      "encoding": {"x": {"datum": 0.46}, "y": {"datum": 1.055}, "text": {"field": "label"}}
    },
    {
      "data": {"values": [{"label": "Down Trend"}]},
      "mark": {"type": "text", "align": "center", "baseline": "alphabetic", "fontSize": 31, "fontWeight": "bold", "color": "#f50000"},
      "encoding": {"x": {"datum": 129.2}, "y": {"datum": 0.721}, "text": {"field": "label"}}
    }
  ]
}
]
}
